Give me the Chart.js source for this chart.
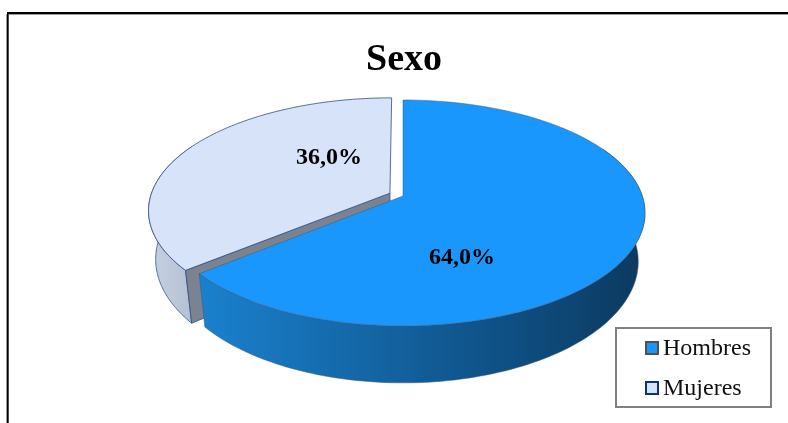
<!DOCTYPE html>
<html>
<head>
<meta charset="utf-8">
<style>
  html, body { margin: 0; padding: 0; background: #fff; overflow: hidden; }
  canvas { display: block; }
</style>
<script src="https://cdn.jsdelivr.net/npm/chart.js@4/dist/chart.umd.js"></script>
</head>
<body>
<canvas id="sexo-canvas" width="788" height="423"></canvas>
<script>
const categories = ['Hombres', 'Mujeres'];
const values = [64, 36];
const valueLabels = ['64,0%', '36,0%'];

const topColors = ['#1a97fc', '#d7e3f8'];
const edgeColors = ['#3d5a78', '#2f4f86'];
const edgeWidths = [0.5, 0.8];
const legendBorders = ['#505050', '#10306e'];
const faceColors = ['#0f4f80', '#7b8390'];
const wallStops = [
  [[205, '#1a80cc'], [490, '#0f5288'], [640, '#0c3a60']],
  [[150, '#c6d0e2'], [195, '#b3bfd3']],
];
const labelSpots = [[462, 258], [329, 158]];

// perspective of the tilted disc
const view = { cx: 403, cy: 196, rx: 239.3, ry: 110.4, k: 0.15 };

function project(u, v, low) {
  const s = 1 / (1 + view.k * v);
  let x = view.cx + view.rx * u * s;
  let y = view.cy - view.ry * v * s;
  if (low) {
    y += 53 + (y - 272) * 4 / 54;
    x = view.cx + (x - view.cx) * 0.972;
  }
  return [x, y];
}

function arcShape(arc) {
  const props = arc.getProps(['startAngle', 'endAngle', 'outerRadius'], true);
  const mid = (props.startAngle + props.endAngle) / 2;
  const off = (arc.options.offset || 0) / props.outerRadius;
  const ou = Math.cos(mid) * off;
  const ov = -Math.sin(mid) * off;
  return {
    start: props.startAngle,
    end: props.endAngle,
    apex: [ou, ov],
    at: a => [ou + Math.cos(a), ov - Math.sin(a)],
  };
}

function rimPoints(shape, from, to, low) {
  const pts = [];
  const steps = 120;
  for (let i = 0; i <= steps; i++) {
    const a = from + (to - from) * i / steps;
    const p = shape.at(a);
    pts.push(project(p[0], p[1], low));
  }
  return pts;
}

function tracePath(ctx, pts) {
  ctx.beginPath();
  pts.forEach((p, i) => (i ? ctx.lineTo(p[0], p[1]) : ctx.moveTo(p[0], p[1])));
  ctx.closePath();
}

function drawWall(ctx, shape, index) {
  // only the part of the rim that faces the viewer
  const from = Math.max(shape.start, -0.15 * Math.PI);
  const to = Math.min(shape.end, 1.15 * Math.PI);
  const top = rimPoints(shape, from, to, false);
  const low = rimPoints(shape, from, to, true);
  const stops = wallStops[index];
  const x0 = stops[0][0];
  const x1 = stops[stops.length - 1][0];
  const grad = ctx.createLinearGradient(x0, 0, x1, 0);
  stops.forEach(s => grad.addColorStop((s[0] - x0) / (x1 - x0), s[1]));
  tracePath(ctx, top.concat(low.reverse()));
  ctx.fillStyle = grad;
  ctx.fill();
  ctx.strokeStyle = edgeColors[index];
  ctx.lineWidth = edgeWidths[index];
  ctx.stroke();
}

function drawFace(ctx, shape, angle, index) {
  const rim = shape.at(angle);
  tracePath(ctx, [
    project(shape.apex[0], shape.apex[1], false),
    project(rim[0], rim[1], false),
    project(rim[0], rim[1], true),
    project(shape.apex[0], shape.apex[1], true),
  ]);
  ctx.fillStyle = faceColors[index];
  ctx.fill();
  ctx.strokeStyle = edgeColors[index];
  ctx.lineWidth = edgeWidths[index];
  ctx.stroke();
}

function drawTop(ctx, shape, index) {
  const pts = rimPoints(shape, shape.start, shape.end, false);
  pts.unshift(project(shape.apex[0], shape.apex[1], false));
  tracePath(ctx, pts);
  ctx.fillStyle = topColors[index];
  ctx.fill();
  ctx.strokeStyle = edgeColors[index];
  ctx.lineWidth = edgeWidths[index];
  ctx.stroke();
}

const pie3d = {
  id: 'pie3d',
  beforeDraw(chart) {
    const ctx = chart.ctx;
    ctx.save();
    ctx.fillStyle = '#fff';
    ctx.fillRect(0, 0, 788, 423);
    ctx.fillStyle = '#9a9a9a';
    ctx.fillRect(6, 14, 3, 409);
    ctx.fillRect(7, 14, 781, 1);
    ctx.fillStyle = '#000';
    ctx.fillRect(7, 12, 781, 2);
    ctx.fillRect(7, 12, 1.5, 411);
    ctx.restore();
  },
  beforeDatasetsDraw(chart) {
    const ctx = chart.ctx;
    const arcs = chart.getDatasetMeta(0).data;
    const shapes = arcs.map(arcShape);
    ctx.save();
    ctx.lineJoin = 'round';
    // the back slice first, the big front slice covers part of it
    [1, 0].forEach(i => {
      drawWall(ctx, shapes[i], i);
      if (i === 1) drawFace(ctx, shapes[i], shapes[i].start, i);
      drawTop(ctx, shapes[i], i);
    });
    ctx.restore();
    return false;
  },
  afterDraw(chart) {
    const ctx = chart.ctx;
    ctx.save();
    ctx.fillStyle = '#000';
    ctx.textBaseline = 'middle';
    ctx.textAlign = 'center';
    ctx.font = 'bold 24px "Liberation Serif"';
    valueLabels.forEach((t, i) => ctx.fillText(t, labelSpots[i][0], labelSpots[i][1]));

    // legend box
    ctx.strokeStyle = '#808080';
    ctx.lineWidth = 2;
    ctx.strokeRect(616, 328, 155, 79);
    ctx.textAlign = 'left';
    ctx.textBaseline = 'alphabetic';
    ctx.font = '24px "Liberation Serif"';
    chart.data.labels.forEach((name, i) => {
      const y = 342 + i * 40;
      ctx.fillStyle = topColors[i];
      ctx.fillRect(646, y, 12, 12);
      ctx.strokeStyle = legendBorders[i];
      ctx.lineWidth = 2;
      ctx.strokeRect(646, y, 12, 12);
      ctx.fillStyle = '#111';
      ctx.fillText(name, 663, y + 13);
    });
    ctx.restore();
  },
};

new Chart(document.getElementById('sexo-canvas'), {
  type: 'pie',
  data: {
    labels: categories,
    datasets: [{ data: values, backgroundColor: topColors, offset: [0, 10], borderWidth: 0 }],
  },
  options: {
    responsive: false,
    animation: false,
    layout: { padding: { left: 20, top: 37 } },
    plugins: {
      legend: { display: false },
      tooltip: { enabled: false },
      title: {
        display: true,
        text: 'Sexo',
        color: '#000',
        font: { family: '"Liberation Serif"', size: 38, weight: 'bold' },
        padding: 0,
      },
    },
  },
  plugins: [pie3d],
});
</script>
</body>
</html>
